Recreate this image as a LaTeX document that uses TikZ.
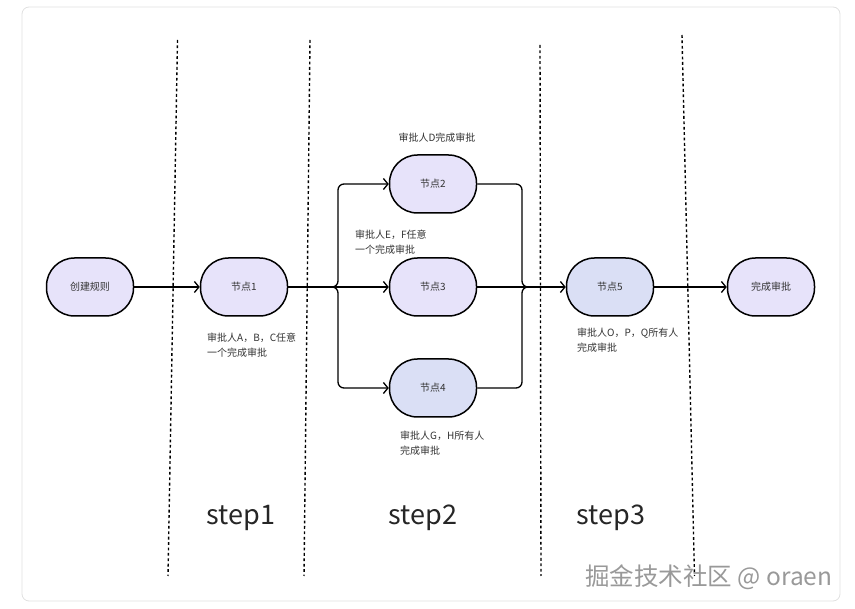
\documentclass[tikz,border=0pt]{standalone}
\usepackage{fontspec}
\setmainfont{Noto Sans CJK SC}
\usetikzlibrary{arrows.meta}
\definecolor{lav}{RGB}{231,227,250}
\definecolor{lavblue}{RGB}{218,223,245}
\definecolor{txt}{RGB}{51,51,51}
\begin{document}
\begin{tikzpicture}[x=1pt,y=-1pt,
  stage/.style={draw=black,line width=1.5pt,fill=lav,rounded corners=28pt,minimum width=87pt,minimum height=58pt,inner sep=0pt,font=\fontsize{10}{12}\selectfont,text=txt},
  note/.style={align=left,inner sep=0pt,font=\fontsize{10}{15.5}\selectfont,text=txt},
  link/.style={line width=1.3pt,-{Straight Barb[length=4.5pt,width=11pt]}},
  plain/.style={line width=1.3pt},
  divider/.style={line width=1.4pt,dash pattern=on 2.8pt off 2.6pt},
  steplabel/.style={font=\fontsize{27}{32}\selectfont,text=black!85}]
\useasboundingbox (0,0) rectangle (855,609);
\draw[black!12,line width=0.8pt,rounded corners=7pt] (22,7) rectangle (840,601);

\draw[divider] (177.5,40) -- (168,576);
\draw[divider] (310,40) -- (304,576);
\draw[divider] (540,45) -- (541,576);
\draw[divider] (682,35) -- (694.5,576);

\node[stage] (start) at (90,287) {创建规则};
\node[stage] (n1) at (244,287) {节点1};
\node[stage] (n2) at (433,184) {节点2};
\node[stage] (n3) at (433,287) {节点3};
\node[stage,fill=lavblue] (n4) at (433,388) {节点4};
\node[stage,fill=lavblue] (n5) at (610,287) {节点5};
\node[stage] (done) at (771,287) {完成审批};
\coordinate (split) at (333,287);
\coordinate (merge) at (527,287);

\draw[link] (start.east) -- (n1.west);
\draw[link] (n1.east) -- (n3.west);
\draw[link,rounded corners=6pt] (split) -- ++(5,0) |- (n2.west);
\draw[link,rounded corners=6pt] (split) -- ++(5,0) |- (n4.west);
\draw[plain,rounded corners=6pt] (n2.east) -| ([xshift=-5pt]merge) -- (merge);
\draw[plain,rounded corners=6pt] (n4.east) -| ([xshift=-5pt]merge) -- (merge);
\draw[link] (n3.east) -- (n5.west);
\draw[link] (n5.east) -- (done.west);

\node[note] (dnote) at (437,138) {审批人D完成审批};
\node[note,anchor=west] (efnote) at (355,242) {审批人E，F任意\\一个完成审批};
\node[note,anchor=west] (abcnote) at (207,345) {审批人A，B，C任意\\一个完成审批};
\node[note,anchor=west] (ghnote) at (400,443) {审批人G，H所有人\\完成审批};
\node[note,anchor=west] (opqnote) at (577,340) {审批人O，P，Q所有人\\完成审批};

\node[steplabel] (s1) at (241,518) {step1};
\node[steplabel] (s2) at (423,518) {step2};
\node[steplabel] (s3) at (611,518) {step3};

\node[anchor=east,font=\fontsize{24.5}{28}\selectfont,text=black!40] (mark) at (836,577) {掘金技术社区 @ oraen};
\end{tikzpicture}
\end{document}
